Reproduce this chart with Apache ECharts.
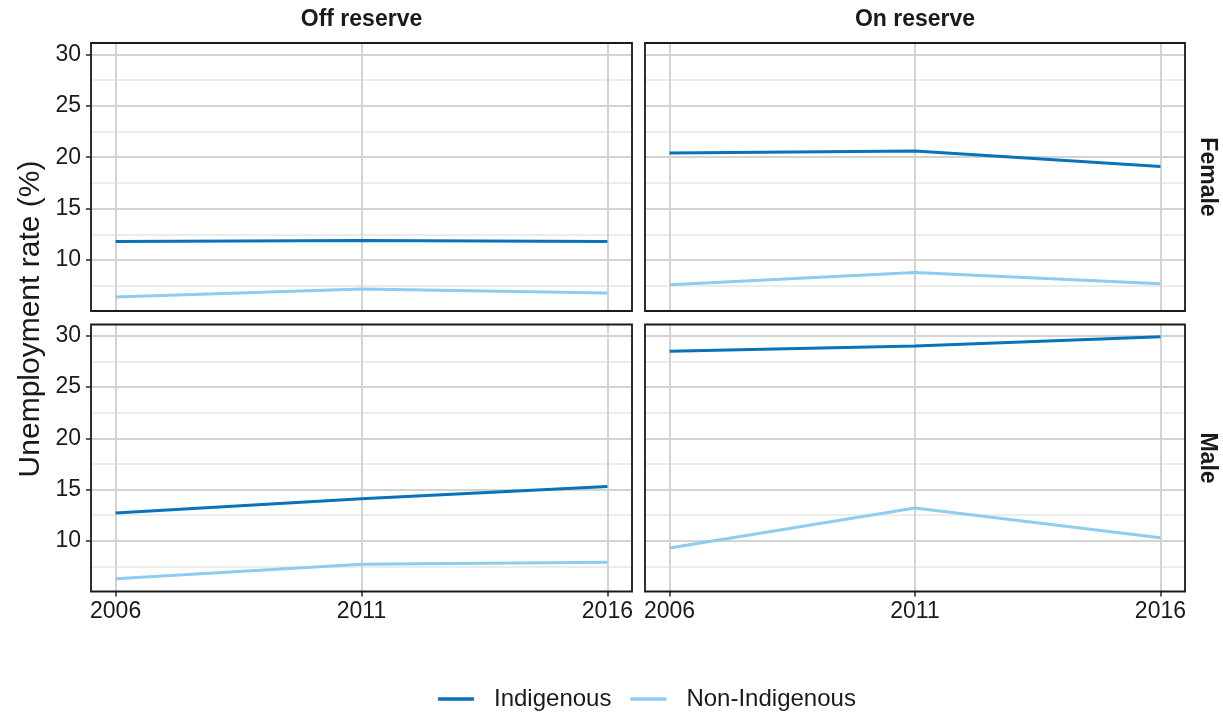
<!DOCTYPE html>
<html>
<head>
<meta charset="utf-8">
<script src="https://cdn.jsdelivr.net/npm/echarts@6/dist/echarts.min.js"></script>
<style>
  html, body { margin: 0; padding: 0; background: #ffffff; }
  #chart { width: 1223px; height: 713px; }
</style>
</head>
<body>
<div id="chart"></div>
<script>
// Unemployment rate (%) by year, residence and sex
const years = [2006, 2011, 2016];
const offFemaleIndigenous = [11.8, 11.9, 11.8];
const offFemaleNonIndigenous = [6.4, 7.2, 6.8];
const onFemaleIndigenous = [20.4, 20.6, 19.1];
const onFemaleNonIndigenous = [7.6, 8.8, 7.7];
const offMaleIndigenous = [12.7, 14.1, 15.3];
const offMaleNonIndigenous = [6.3, 7.7, 7.9];
const onMaleIndigenous = [28.5, 29.0, 29.9];
const onMaleNonIndigenous = [9.3, 13.2, 10.3];

const columnLabels = ['Off reserve', 'On reserve'];
const rowLabels = ['Female', 'Male'];
const groupNames = ['Indigenous', 'Non-Indigenous'];
const yMajorTicks = [10, 15, 20, 25, 30];
const yMinorTicks = [7.5, 12.5, 17.5, 22.5, 27.5];

const FONT = 'Liberation Sans, Arial, Helvetica, sans-serif';
const COLORS = { 'Indigenous': '#0a72b8', 'Non-Indigenous': '#8ecdef' };
const MAJOR_GRID = '#d3d3d3';
const MINOR_GRID = '#e6e6e6';
const INK = '#1a1a1a';

// panel layout: [left, width] per column, [top, height] per row
const colX = [[91, 541], [645, 540]];
const rowY = [[43, 268], [324.5, 267]];

const panels = [
  { col: 0, row: 0, data: [offFemaleIndigenous, offFemaleNonIndigenous] },
  { col: 1, row: 0, data: [onFemaleIndigenous, onFemaleNonIndigenous] },
  { col: 0, row: 1, data: [offMaleIndigenous, offMaleNonIndigenous] },
  { col: 1, row: 1, data: [onMaleIndigenous, onMaleNonIndigenous] }
];

const grids = [], xAxes = [], yAxes = [], series = [], graphics = [];

panels.forEach((p, i) => {
  const [left, width] = colX[p.col];
  const [top, height] = rowY[p.row];
  grids.push({ left: left, top: top, width: width, height: height, containLabel: false });

  const bottomRow = p.row === 1;
  const leftCol = p.col === 0;

  xAxes.push({
    type: 'value', gridIndex: i, min: 2005.5, max: 2016.5,
    axisLine: { show: false },
    axisTick: { show: bottomRow, customValues: years, length: 5, lineStyle: { color: '#333', width: 1.6 } },
    axisLabel: {
      show: bottomRow, customValues: years, formatter: v => String(v),
      fontFamily: FONT, fontSize: 23, color: INK, margin: 9
    },
    splitLine: { show: true, lineStyle: { color: MAJOR_GRID, width: 2 } }
  });

  // major y axis (labels, ticks, major grid)
  yAxes.push({
    type: 'value', gridIndex: i, min: 5.05, max: 31.1,
    axisLine: { show: false },
    axisTick: { show: leftCol, customValues: yMajorTicks, length: 5, lineStyle: { color: '#333', width: 1.6 } },
    axisLabel: {
      show: leftCol, customValues: yMajorTicks,
      fontFamily: FONT, fontSize: 23, color: INK, margin: 10
    },
    splitLine: { show: true, lineStyle: { color: MAJOR_GRID, width: 2 } }
  });
  const majorIndex = yAxes.length - 1;

  // minor y grid
  yAxes.push({
    type: 'value', gridIndex: i, min: 5.05, max: 31.1,
    axisLine: { show: false },
    axisTick: { show: false, customValues: yMinorTicks },
    axisLabel: { show: false, customValues: yMinorTicks },
    splitLine: { show: true, lineStyle: { color: MINOR_GRID, width: 1.6 } }
  });

  p.data.forEach((vals, k) => {
    const name = groupNames[k];
    series.push({
      name: name, type: 'line', xAxisIndex: i, yAxisIndex: majorIndex,
      data: years.map((y, j) => [y, vals[j]]),
      showSymbol: false, symbol: 'none',
      lineStyle: { color: COLORS[name], width: 3 },
      itemStyle: { color: COLORS[name] },
      z: 5
    });
  });

  // panel border
  graphics.push({
    type: 'rect', z: 100,
    shape: { x: left, y: top, width: width, height: height },
    style: { fill: 'none', stroke: INK, lineWidth: 1.8 }
  });
});

// column strip labels
columnLabels.forEach((t, c) => {
  graphics.push({
    type: 'text', z: 100,
    x: colX[c][0] + colX[c][1] / 2, y: 20,
    style: { text: t, font: 'bold 23px ' + FONT, fill: INK, textAlign: 'center', textVerticalAlign: 'middle' }
  });
});

// row strip labels
rowLabels.forEach((t, r) => {
  graphics.push({
    type: 'text', z: 100,
    x: 1207, y: rowY[r][0] + rowY[r][1] / 2,
    rotation: -Math.PI / 2,
    style: { text: t, font: 'bold 23px ' + FONT, fill: INK, textAlign: 'center', textVerticalAlign: 'middle' }
  });
});

// y axis title
graphics.push({
  type: 'text', z: 100,
  x: 31, y: 319,
  rotation: Math.PI / 2,
  style: { text: 'Unemployment rate (%)', font: '30px ' + FONT, fill: INK, textAlign: 'center', textVerticalAlign: 'middle' }
});

const chart = echarts.init(document.getElementById('chart'), null, { renderer: 'canvas' });
chart.setOption({
  animation: false,
  backgroundColor: '#ffffff',
  grid: grids,
  xAxis: xAxes,
  yAxis: yAxes,
  series: series,
  legend: {
    data: groupNames,
    left: 433, top: 682,
    icon: 'rect', itemWidth: 36, itemHeight: 3.5,
    itemGap: 19,
    textStyle: { fontFamily: FONT, fontSize: 24, color: INK, padding: [0, 0, 0, 15] }
  },
  graphic: graphics
});
</script>
</body>
</html>
